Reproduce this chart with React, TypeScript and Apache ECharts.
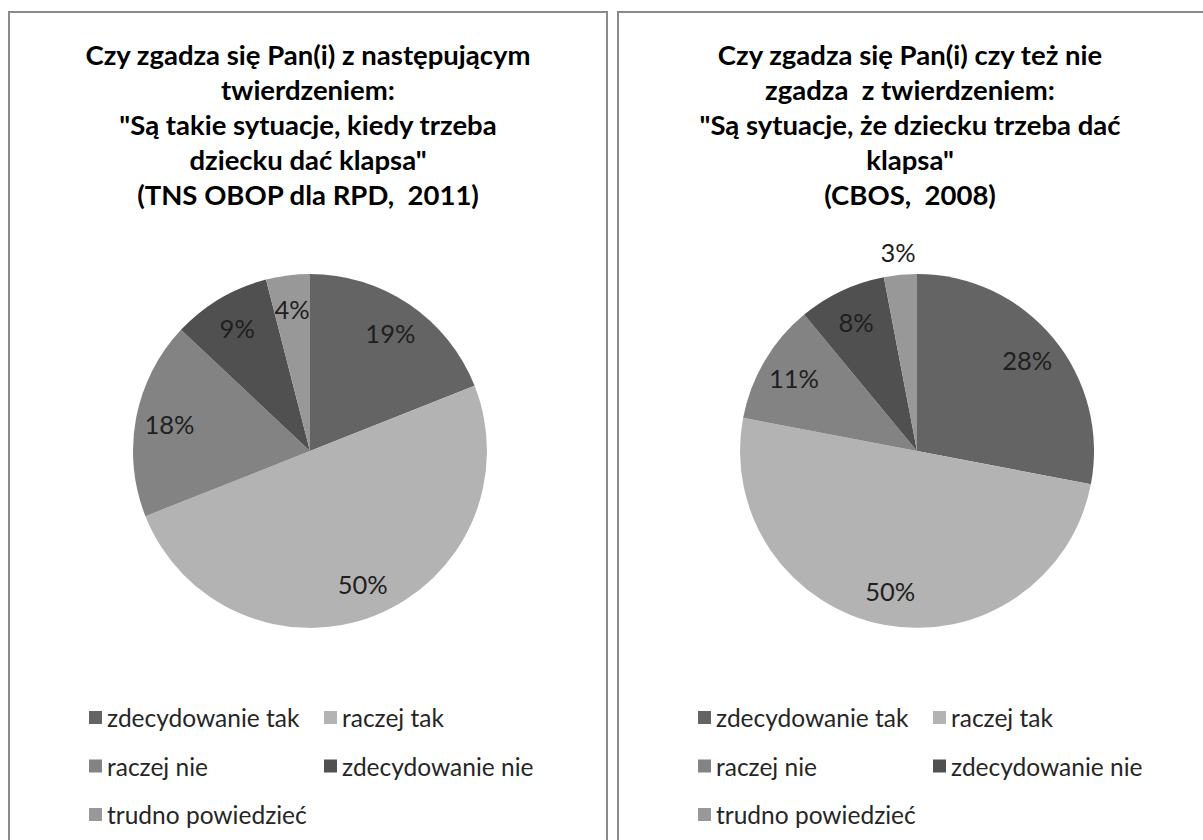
import React, { useEffect, useRef } from "react";
import * as echarts from "echarts";

const categories = ["zdecydowanie tak", "raczej tak", "raczej nie", "zdecydowanie nie", "trudno powiedzieć"];
const valuesTNS = [19, 50, 18, 9, 4];
const valuesCBOS = [28, 50, 11, 8, 3];
const colors = ["#646464", "#b3b3b3", "#838383", "#505050", "#989898"];

const titleTNS = [
  "Czy zgadza się Pan(i) z następującym",
  "twierdzeniem:",
  "\"Są takie sytuacje, kiedy trzeba",
  "dziecku dać klapsa\"",
  "(TNS OBOP dla RPD,  2011)",
];
const titleCBOS = [
  "Czy zgadza się Pan(i) czy też nie",
  "zgadza  z twierdzeniem:",
  "\"Są sytuacje, że dziecku trzeba dać",
  "klapsa\"",
  "(CBOS,  2008)",
];
// which labels sit outside the pie
const outsideTNS = [false, false, false, false, false];
const outsideCBOS = [false, false, false, false, true];

const legendCol1 = ["zdecydowanie tak", "raczej nie", "trudno powiedzieć"];
const legendCol2 = ["raczej tak", "zdecydowanie nie"];

const FONT = "Lato, 'Noto Sans', sans-serif";

export default function App() {
  const ref = useRef<HTMLDivElement>(null);
  useEffect(() => {
    if (!ref.current) return;
    const chart = echarts.init(ref.current, undefined, { renderer: "svg" });

    const R = 177;
    const panels = [
      { cx: 310, cy: 451, values: valuesTNS, outside: outsideTNS, title: titleTNS, tx: 308, legendX: 89 },
      { cx: 917, cy: 451, values: valuesCBOS, outside: outsideCBOS, title: titleCBOS, tx: 910, legendX: 698 },
    ];

    const labelStyle = {
      show: true,
      position: "inside",
      formatter: "{c}%",
      fontFamily: FONT,
      fontSize: 25.5,
      color: "#1f1f1f",
    };

    const series: any[] = [];
    panels.forEach((p) => {
      series.push({
        type: "pie",
        center: [p.cx, p.cy],
        radius: [0, R],
        startAngle: 90,
        clockwise: true,
        silent: true,
        label: { show: false },
        labelLine: { show: false },
        data: categories.map((c, i) => ({ name: c, value: p.values[i], itemStyle: { color: colors[i] } })),
      });
    });
    panels.forEach((p) => {
      // invisible ring carrying the inside labels
      series.push({
        type: "pie",
        center: [p.cx, p.cy],
        radius: [114, 166],
        startAngle: 90,
        clockwise: true,
        silent: true,
        avoidLabelOverlap: false,
        itemStyle: { color: "rgba(0,0,0,0)" },
        labelLine: { show: false },
        label: labelStyle,
        data: categories.map((c, i) => ({
          name: c,
          value: p.values[i],
          label: { show: !p.outside[i] },
        })),
      });
      // invisible ring carrying the outside labels
      series.push({
        type: "pie",
        center: [p.cx, p.cy],
        radius: [186, 208],
        startAngle: 90,
        clockwise: true,
        silent: true,
        avoidLabelOverlap: false,
        itemStyle: { color: "rgba(0,0,0,0)" },
        labelLine: { show: false },
        label: labelStyle,
        data: categories.map((c, i) => ({
          name: c,
          value: p.values[i],
          label: { show: p.outside[i] },
        })),
      });
    });

    const legendBase = {
      orient: "vertical",
      top: 705,
      padding: 0,
      icon: "rect",
      itemWidth: 13,
      itemHeight: 13,
      itemGap: 23.5,
      selectedMode: false,
      textStyle: { fontFamily: FONT, fontSize: 24.5, lineHeight: 24, color: "#262626" },
    };
    const legend: any[] = [];
    panels.forEach((p) => {
      legend.push({ ...legendBase, left: p.legendX, data: legendCol1 });
      legend.push({ ...legendBase, left: p.legendX + 235, data: legendCol2 });
    });

    const graphic: any[] = [
      { type: "rect", shape: { x: 9, y: 12, width: 598, height: 900 }, style: { fill: "none", stroke: "#8a8a8a", lineWidth: 2 }, silent: true },
      { type: "rect", shape: { x: 618, y: 12, width: 700, height: 900 }, style: { fill: "none", stroke: "#8a8a8a", lineWidth: 2 }, silent: true },
    ];
    panels.forEach((p) => {
      graphic.push({
        type: "text",
        x: p.tx,
        y: 37,
        style: {
          text: p.title.join("\n"),
          align: "center",
          verticalAlign: "top",
          fontFamily: FONT,
          fontWeight: "bold",
          fontSize: 27.5,
          lineHeight: 35,
          fill: "#000000",
        },
        silent: true,
      });
    });

    chart.setOption({
      animation: false,
      backgroundColor: "#ffffff",
      graphic,
      legend,
      series,
    });
    return () => chart.dispose();
  }, []);

  return <div ref={ref} style={{ position: "absolute", left: 0, top: 0, width: 1203, height: 840 }} />;
}
